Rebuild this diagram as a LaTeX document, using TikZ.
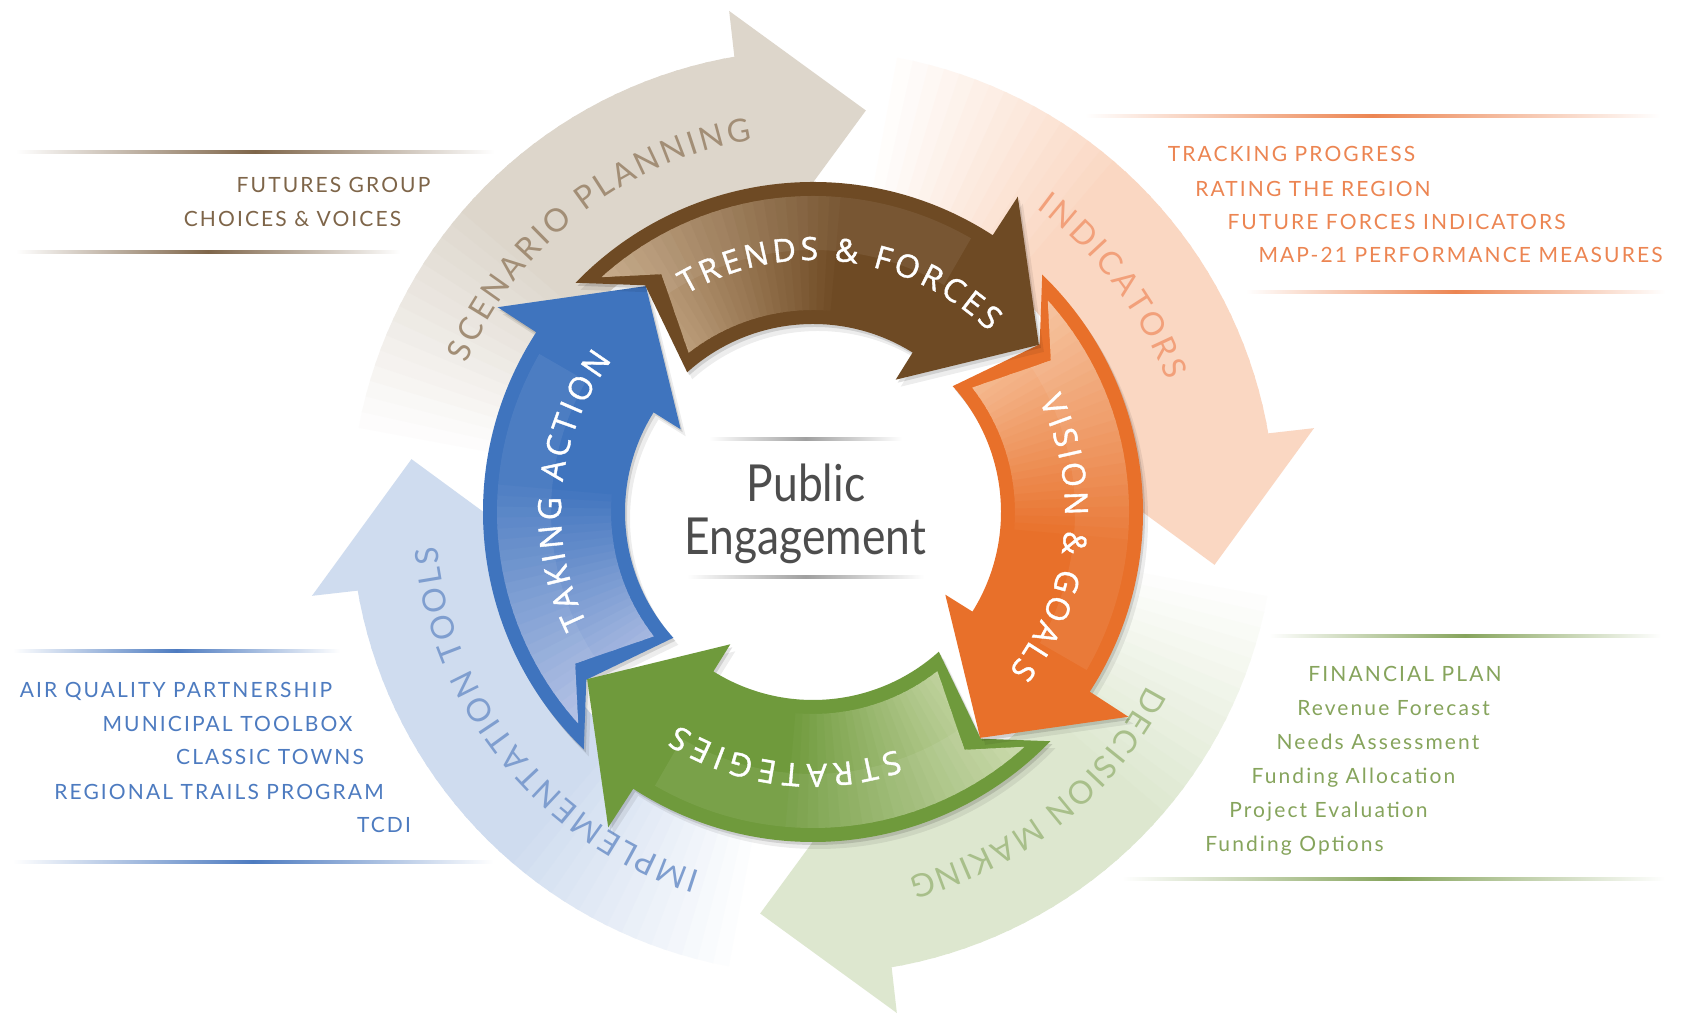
\documentclass[tikz,border=0pt]{standalone}
\usepackage{fontspec}
\setmainfont{Lato}
\newfontfamily\labfont[LetterSpace=10]{Lato}
\newfontfamily\outfont{Lato}
\newfontfamily\inlab[FakeBold=1.2]{Open Sans}
\newfontfamily\pefont[FakeStretch=0.87]{Lato}
\usetikzlibrary{decorations.text}
% inner ring colours
\definecolor{brM}{HTML}{6E4A24}\definecolor{brP}{HTML}{CBAE8C}
\definecolor{orM}{HTML}{E8702A}\definecolor{orP}{HTML}{F7C7A3}
\definecolor{grM}{HTML}{6F9A3C}\definecolor{grP}{HTML}{CFDDB0}
\definecolor{blM}{HTML}{3F74BE}\definecolor{blP}{HTML}{BAC5E7}
% outer ring colours
\definecolor{beO}{HTML}{DDD6CB}\definecolor{peO}{HTML}{FAD7C2}
\definecolor{lgO}{HTML}{DDE7CF}\definecolor{lbO}{HTML}{CFDCEF}
\definecolor{beT}{HTML}{A28E76}\definecolor{peT}{HTML}{F2A07A}
\definecolor{lgT}{HTML}{A8BF8A}\definecolor{lbT}{HTML}{7F9ECF}
% side text colours
\definecolor{brS}{HTML}{7E6549}\definecolor{orS}{HTML}{EC8552}
\definecolor{blS}{HTML}{4D7BC0}\definecolor{grS}{HTML}{86A45C}
\definecolor{peC}{HTML}{4D4D4D}

\newcommand{\outerbody}[2]{%
 \foreach \k in {0,...,36}{%
  \pgfmathsetmacro{\oa}{#1+72-2*\k}%
  \pgfmathsetmacro{\ob}{\oa-2.5}%
  \pgfmathtruncatemacro{\om}{min(100,\k*100/16)}%
  \fill[#2!\om!white] (\oa:462) arc[start angle=\oa,end angle=\ob,radius=462]
     -- (\ob:300) arc[start angle=\ob,end angle=\oa,radius=300] -- cycle;
 }}
\newcommand{\outerhead}[2]{%
 \pgfmathsetmacro{\ot}{#1-17}%
 \pgfmathsetmacro{\ou}{#1+0.3}%
 \fill[#2] (\ou:300) -- (#1:272) -- (\ot:405) -- (#1:508) -- (\ou:462) -- cycle;}

\newcommand{\ringarrow}[3]{%
 \pgfmathsetmacro{\rO}{#1+79}%
 \pgfmathsetmacro{\rI}{#1+75}%
 \pgfmathsetmacro{\rA}{#1+69.5}%
 \pgfmathsetmacro{\rT}{#1-20.5}%
 \pgfmathsetmacro{\rB}{#1+1}%
 \pgfmathsetmacro{\pO}{#1+75}%
 \pgfmathsetmacro{\pI}{#1+71}%
 \pgfmathsetmacro{\pA}{#1+65.5}%
 \pgfmathsetmacro{\pE}{#1+3}%
 \pgfmathsetmacro{\pZ}{#1+82}%
 \foreach \sx/\sy/\so in {5/-7/0.07,2/-3/0.12}{%
  \begin{scope}[shift={(\sx,\sy)}]
  \fill[black,opacity=\so] (\rO:330) arc[start angle=\rO,end angle=#1,radius=330] -- (#1:376) -- (\rT:281)
    -- (\rB:156) -- (\rB:188) arc[start angle=\rB,end angle=\rI,radius=188] -- (\rA:282) -- cycle;
  \end{scope}}
 \fill[#2] (\rO:330) arc[start angle=\rO,end angle=#1,radius=330] -- (#1:376) -- (\rT:281)
    -- (\rB:156) -- (\rB:188) arc[start angle=\rB,end angle=\rI,radius=188] -- (\rA:282) -- cycle;
 \begin{scope}
  \clip (\pO:316) arc[start angle=\pO,end angle=\pE,radius=316] -- (\pE:202)
     arc[start angle=\pE,end angle=\pI,radius=202] -- (\pA:282) -- cycle;
  \foreach \k in {0,...,39}{%
   \pgfmathsetmacro{\qa}{#1+80-2*\k}%
   \pgfmathsetmacro{\qb}{\qa-2.5}%
   \pgfmathtruncatemacro{\qm}{min(100,\k*100/26)}%
   \fill[#2!\qm!#3] (\qa:320) arc[start angle=\qa,end angle=\qb,radius=320]
      -- (\qb:198) arc[start angle=\qb,end angle=\qa,radius=198] -- cycle;}
  \fill[white,opacity=0.07] (\pZ:318) arc[start angle=\pZ,end angle=#1,radius=318]
      -- (#1:262) arc[start angle=#1,end angle=\pZ,radius=262] -- cycle;
 \end{scope}}

% #1 centre angle, #2 half span, #3 text
\newcommand{\ringlabel}[3]{%
 \pgfmathsetmacro{\tlS}{#1+#2}%
 \pgfmathsetmacro{\tlE}{#1-#2}%
 \path[decorate,decoration={text along path,text align={fit to path},
   text={|\inlab\fontsize{32}{32}\selectfont\color{white}|#3}}]
   (\tlS:252) arc[start angle=\tlS,end angle=\tlE,radius=252];}

% #1 centre angle, #2 half span, #3 text, #4 colour
\newcommand{\outlabel}[4]{%
 \pgfmathsetmacro{\olS}{#1+#2}%
 \pgfmathsetmacro{\olE}{#1-#2}%
 \path[decorate,decoration={text along path,text align={fit to path},
   text={|\outfont\fontsize{32}{32}\selectfont\color{#4}|#3}}]
   (\olS:377) arc[start angle=\olS,end angle=\olE,radius=377];}

\tikzset{
  sidetext/.style={anchor=base,inner sep=0pt,font=\labfont\fontsize{21}{21}\selectfont},
  centretext/.style={anchor=base,inner sep=0pt,font=\pefont\fontsize{51}{51}\selectfont,text=peC},
}

\begin{document}
\begin{tikzpicture}[x=1pt,y=1pt]
\useasboundingbox (0,0) rectangle (1684,1016);
\fill[white] (0,0) rectangle (1684,1016);

% ---------- side lists ----------
\shade[left color=white,right color=white,middle color=brS] (16,862.5) rectangle (494,865.5);
\shade[left color=white,right color=white,middle color=brS] (16,762.5) rectangle (400,765.5);
\node[sidetext,text=brS] (fg) at (333.5,823) {FUTURES GROUP};
\node[sidetext,text=brS] (cv) at (292.5,789) {CHOICES \& VOICES};

\shade[left color=white,right color=white,middle color=orS] (1085,898.5) rectangle (1660,901.5);
\shade[left color=white,right color=white,middle color=orS] (1246,722.5) rectangle (1665,725.5);
\node[sidetext,text=orS] (tp) at (1291.5,854) {TRACKING PROGRESS};
\node[sidetext,text=orS] (rr) at (1313,819) {RATING THE REGION};
\node[sidetext,text=orS] (ff) at (1396.5,786) {FUTURE FORCES INDICATORS};
\node[sidetext,text=orS] (mp) at (1460.5,753) {MAP-21 PERFORMANCE MEASURES};

\shade[left color=white,right color=white,middle color=blS] (13,363.5) rectangle (340,366.5);
\shade[left color=white,right color=white,middle color=blS] (13,152.5) rectangle (493,155.5);
\node[sidetext,text=blS] (aq) at (176,318) {AIR QUALITY PARTNERSHIP};
\node[sidetext,text=blS] (mt) at (227.5,284) {MUNICIPAL TOOLBOX};
\node[sidetext,text=blS] (ct) at (270,251) {CLASSIC TOWNS};
\node[sidetext,text=blS] (rt) at (219,216) {REGIONAL TRAILS PROGRAM};
\node[sidetext,text=blS] (tc) at (384,183) {TCDI};

\shade[left color=white,right color=white,middle color=grS] (1269,378.5) rectangle (1661,381.5);
\shade[left color=white,right color=white,middle color=grS] (1122,135.5) rectangle (1665,138.5);
\node[sidetext,text=grS] (fp) at (1405,334) {FINANCIAL PLAN};
\node[sidetext,text=grS] (rf) at (1393.5,300) {Revenue Forecast};
\node[sidetext,text=grS] (na) at (1378,266) {Needs Assessment};
\node[sidetext,text=grS] (fa) at (1353.5,232) {Funding Allocation};
\node[sidetext,text=grS] (pe) at (1328.5,198) {Project Evaluation};
\node[sidetext,text=grS] (fo) at (1294.5,164) {Funding Options};

% ---------- cycle ----------
\begin{scope}[shift={(813,504)}]
 \outerbody{99.5}{beO}
 \outerbody{9.5}{peO}
 \outerbody{-80.5}{lgO}
 \outerbody{-170.5}{lbO}
 \outerhead{99.5}{beO}
 \outerhead{9.5}{peO}
 \outerhead{-80.5}{lgO}
 \outerhead{-170.5}{lbO}
 \outlabel{128}{28.75}{SCENARIO PLANNING}{beT}
 \outlabel{37}{16.65}{INDICATORS}{peT}
 \outlabel{-51.35}{23.95}{DECISION MAKING}{lgT}
 \outlabel{-141}{33.7}{IMPLEMENTATION TOOLS}{lbT}

 \ringarrow{147}{blM}{blP}
 \ringarrow{-123}{grM}{grP}
 \ringarrow{-33}{orM}{orP}
 \ringarrow{57}{brM}{brP}
 \ringlabel{83}{37.3}{TRENDS {\&} FORCES}
 \ringlabel{-6.35}{32.6}{VISION {\&} GOALS}
 \ringlabel{-96.5}{25.9}{STRATEGIES}
 \ringlabel{174.65}{31.75}{TAKING ACTION}
\end{scope}

% ---------- centre ----------
\shade[left color=white,right color=white,middle color=gray!75] (709,575) rectangle (902,578);
\shade[left color=white,right color=white,middle color=gray!75] (687,437) rectangle (924,440);
\node[centretext] (pub) at (806,514) {Public};
\node[centretext] (eng) at (805.5,461) {Engagement};
\end{tikzpicture}
\end{document}
